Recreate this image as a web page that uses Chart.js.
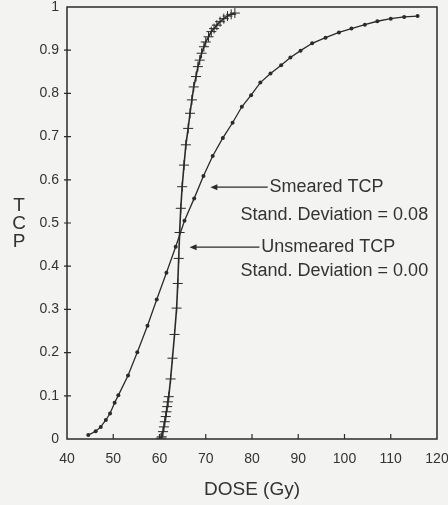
<!DOCTYPE html>
<html>
<head>
<meta charset="utf-8">
<script src="https://cdn.jsdelivr.net/npm/chart.js@4/dist/chart.umd.min.js"></script>
<style>
  html, body { margin: 0; padding: 0; background: #f3f3f1; }
  #wrap { width: 448px; height: 505px; position: relative; }
</style>
</head>
<body>
<div id="wrap"><canvas id="chart"></canvas></div>
<script>
// dose axis (Gy) and TCP axis
const doseTicks = [40, 50, 60, 70, 80, 90, 100, 110, 120];
const tcpTicks = [0, 0.1, 0.2, 0.3, 0.4, 0.5, 0.6, 0.7, 0.8, 0.9, 1];

// smeared TCP, standard deviation 0.08 (dots)
const smearedDose = [44.6, 46.2, 47.3, 48.4, 49.3, 50.3, 51.1, 53.2, 55.2, 57.4, 59.4, 61.5, 63.5, 65.4, 67.5, 69.5, 71.5, 73.7, 75.8, 77.8, 79.8, 81.8, 84.0, 86.3, 88.3, 90.5, 93.0, 95.9, 98.8, 101.5, 104.4, 107.1, 110.0, 112.9, 115.8];
const smearedTcp = [0.009, 0.018, 0.028, 0.044, 0.059, 0.084, 0.101, 0.147, 0.201, 0.262, 0.323, 0.385, 0.445, 0.505, 0.557, 0.609, 0.655, 0.697, 0.732, 0.769, 0.796, 0.825, 0.846, 0.865, 0.883, 0.899, 0.916, 0.929, 0.941, 0.950, 0.959, 0.967, 0.973, 0.977, 0.979];

// unsmeared TCP, standard deviation 0.00 (crosses)
const unsmearedDose = [60.3, 60.5, 60.75, 60.95, 61.15, 61.35, 61.5, 61.65, 61.8, 62.0, 62.4, 62.8, 63.25, 63.7, 63.95, 64.15, 64.35, 64.6, 64.9, 65.3, 65.7, 66.2, 66.6, 67.0, 67.4, 67.9, 68.3, 68.7, 69.1, 69.6, 70.0, 70.6, 71.2, 71.8, 72.4, 73.1, 73.9, 74.7, 75.5, 76.3];
const unsmearedTcp = [0.002, 0.005, 0.017, 0.028, 0.040, 0.052, 0.063, 0.075, 0.086, 0.098, 0.139, 0.187, 0.242, 0.303, 0.360, 0.418, 0.478, 0.534, 0.584, 0.634, 0.681, 0.719, 0.754, 0.785, 0.815, 0.839, 0.862, 0.877, 0.893, 0.908, 0.919, 0.931, 0.943, 0.950, 0.958, 0.966, 0.973, 0.979, 0.983, 0.986];

const ink = '#2b2b2b';
const textInk = '#333';
const font = 'Liberation Sans, Arial, sans-serif';

const toPoints = (xs, ys) => xs.map((x, i) => ({ x, y: ys[i] }));

// frame, inward ticks, stacked y title and the two arrow notes
const decorations = {
  id: 'decorations',
  beforeDatasetsDraw(chart) {
    const { ctx, chartArea: a, scales: { x, y } } = chart;
    ctx.save();
    ctx.strokeStyle = ink;
    ctx.lineWidth = 1.5;
    ctx.strokeRect(a.left, a.top, a.right - a.left, a.bottom - a.top);
    ctx.lineWidth = 1.2;
    ctx.beginPath();
    doseTicks.slice(1, -1).forEach((d) => {
      const px = x.getPixelForValue(d);
      ctx.moveTo(px, a.bottom);
      ctx.lineTo(px, a.bottom - 5);
    });
    tcpTicks.slice(1, -1).forEach((t) => {
      const py = y.getPixelForValue(t);
      ctx.moveTo(a.left - 3, py);
      ctx.lineTo(a.left + 4, py);
    });
    ctx.stroke();
    ctx.restore();
  },
  afterDraw(chart) {
    const { ctx, scales: { x, y } } = chart;
    ctx.save();
    ctx.fillStyle = textInk;
    ctx.font = '19px ' + font;
    ctx.textAlign = 'center';
    ctx.textBaseline = 'middle';
    ['T', 'C', 'P'].forEach((ch, i) => ctx.fillText(ch, 19, 206 + i * 18));

    const arrow = (fromDose, toDose, tcp) => {
      const x0 = x.getPixelForValue(fromDose);
      const x1 = x.getPixelForValue(toDose);
      const py = y.getPixelForValue(tcp);
      ctx.strokeStyle = ink;
      ctx.lineWidth = 1.2;
      ctx.beginPath();
      ctx.moveTo(x0 + 5, py);
      ctx.lineTo(x1, py);
      ctx.stroke();
      ctx.fillStyle = ink;
      ctx.beginPath();
      ctx.moveTo(x0, py);
      ctx.lineTo(x0 + 7, py - 3);
      ctx.lineTo(x0 + 7, py + 3);
      ctx.closePath();
      ctx.fill();
    };
    arrow(71.0, 83.4, 0.583);
    arrow(66.5, 81.6, 0.444);

    ctx.fillStyle = textInk;
    ctx.font = '18px ' + font;
    ctx.textAlign = 'left';
    ctx.fillText('Smeared TCP', x.getPixelForValue(83.8), y.getPixelForValue(0.583));
    ctx.fillText('Unsmeared TCP', x.getPixelForValue(82.0), y.getPixelForValue(0.444));
    ctx.textAlign = 'center';
    ctx.fillText('Stand. Deviation = 0.08', x.getPixelForValue(97.8), y.getPixelForValue(0.519));
    ctx.fillText('Stand. Deviation = 0.00', x.getPixelForValue(97.8), y.getPixelForValue(0.389));
    ctx.restore();
  },
};

new Chart(document.getElementById('chart'), {
  type: 'scatter',
  data: {
    datasets: [
      {
        label: 'Smeared TCP',
        data: toPoints(smearedDose, smearedTcp),
        showLine: true,
        borderColor: ink,
        borderWidth: 1.3,
        backgroundColor: ink,
        pointStyle: 'circle',
        pointRadius: 2,
        pointBorderWidth: 0,
        tension: 0,
      },
      {
        label: 'Unsmeared TCP',
        data: toPoints(unsmearedDose, unsmearedTcp),
        showLine: true,
        borderColor: ink,
        borderWidth: 1.6,
        backgroundColor: ink,
        pointStyle: 'cross',
        pointRadius: 5,
        pointBorderWidth: 1,
        tension: 0,
      },
    ],
  },
  options: {
    responsive: true,
    maintainAspectRatio: false,
    animation: false,
    layout: { padding: { top: 7, right: 11, left: 0, bottom: 0 } },
    plugins: {
      legend: { display: false },
      tooltip: { enabled: false },
    },
    scales: {
      x: {
        type: 'linear',
        min: 40,
        max: 120,
        afterBuildTicks: (s) => { s.ticks = doseTicks.map((v) => ({ value: v })); },
        afterFit: (s) => { s.height = 66; s.paddingLeft = 0; s.paddingRight = 0; },
        grid: { display: false, drawTicks: false },
        border: { display: false },
        ticks: { color: textInk, padding: 12, font: { family: font, size: 14 } },
        title: {
          display: true,
          text: 'DOSE (Gy)',
          color: textInk,
          font: { family: font, size: 19 },
          padding: { top: 10 },
        },
      },
      y: {
        min: 0,
        max: 1,
        afterBuildTicks: (s) => { s.ticks = tcpTicks.map((v) => ({ value: v })); },
        afterFit: (s) => { s.width = 67; s.paddingTop = 0; s.paddingBottom = 0; },
        grid: { display: false, drawTicks: false },
        border: { display: false },
        ticks: {
          color: textInk,
          padding: 8,
          font: { family: font, size: 14 },
          callback: (v) => String(Math.round(v * 10) / 10),
        },
      },
    },
  },
  plugins: [decorations],
});
</script>
</body>
</html>
